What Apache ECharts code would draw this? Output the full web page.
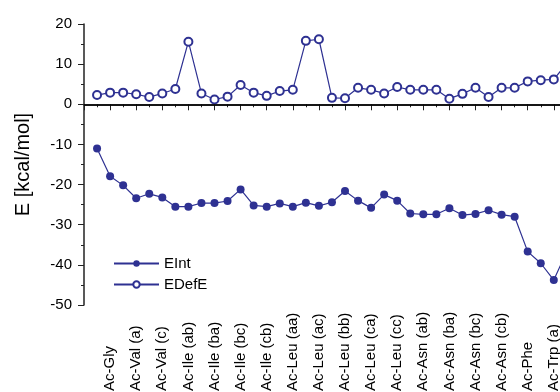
<!DOCTYPE html>
<html>
<head>
<meta charset="utf-8">
<script src="https://cdn.jsdelivr.net/npm/echarts@6/dist/echarts.min.js"></script>
<style>
  html, body { margin: 0; padding: 0; background: #fff; }
  #chart { width: 560px; height: 392px; }
</style>
</head>
<body>
<div id="chart"></div>
<script>
// labels sit on the even x positions (2, 4, ... 36)
const tickLabels = [
  'Ac-Gly', 'Ac-Val (a)', 'Ac-Val (c)', 'Ac-Ile (ab)', 'Ac-Ile (ba)', 'Ac-Ile (bc)',
  'Ac-Ile (cb)', 'Ac-Leu (aa)', 'Ac-Leu (ac)', 'Ac-Leu (bb)', 'Ac-Leu (ca)', 'Ac-Leu (cc)',
  'Ac-Asn (ab)', 'Ac-Asn (ba)', 'Ac-Asn (bc)', 'Ac-Asn (cb)', 'Ac-Phe', 'Ac-Trp (a)'
];

// values at x = 1, 2, 3, ...
const eInt = [
  -11.0, -17.9, -20.2, -23.4, -22.3, -23.2, -25.5, -25.5, -24.6, -24.6,
  -24.1, -21.2, -25.2, -25.5, -24.7, -25.5, -24.5, -25.3, -24.4, -21.6,
  -24.0, -25.8, -22.5, -24.0, -27.2, -27.4, -27.4, -25.9, -27.6, -27.3,
  -26.4, -27.5, -28.0, -36.7, -39.6, -43.8, -36.6
];
const eDefE = [
  2.3, 2.9, 2.9, 2.5, 1.8, 2.7, 3.8, 15.6, 2.7, 1.2,
  1.9, 4.8, 2.9, 2.1, 3.3, 3.6, 15.8, 16.2, 1.6, 1.5,
  4.1, 3.6, 2.7, 4.3, 3.6, 3.6, 3.6, 1.4, 2.6, 4.1,
  1.8, 4.1, 4.1, 5.7, 6.0, 6.2, 10.2
];

const blue = '#2e3192';
const font = 'Liberation Sans, Arial, sans-serif';

const chart = echarts.init(document.getElementById('chart'));

const toPoints = arr => arr.map((v, i) => [i + 1, v]);

chart.setOption({
  backgroundColor: '#fff',
  animation: false,
  grid: { left: 84, top: 24, width: 522, height: 281, outerBoundsMode: 'none', containLabel: false },
  legend: {
    orient: 'vertical',
    left: 108,
    top: 251,
    itemWidth: 45,
    itemHeight: 8,
    itemGap: 6,
    textStyle: { fontFamily: font, fontSize: 15, color: '#000' },
    data: ['EInt', 'EDefE']
  },
  xAxis: {
    type: 'value',
    min: 0,
    max: 40,
    interval: 2,
    axisLine: { lineStyle: { color: '#222', width: 1.5 } },
    axisTick: { length: 6, lineStyle: { color: '#222', width: 1 } },
    minorTick: { show: true, splitNumber: 2, length: 3, lineStyle: { color: '#222', width: 1 } },
    splitLine: { show: false },
    axisLabel: {
      rotate: 90,
      align: 'left',
      verticalAlign: 'middle',
      margin: 86,
      fontFamily: font,
      fontSize: 15,
      color: '#000',
      formatter: v => tickLabels[v / 2 - 1] || ''
    }
  },
  yAxis: {
    type: 'value',
    min: -50,
    max: 20,
    interval: 10,
    name: 'E [kcal/mol]',
    nameLocation: 'middle',
    nameGap: 51,
    nameTextStyle: { fontFamily: font, fontSize: 20, color: '#000' },
    axisLine: { show: true, lineStyle: { color: '#222', width: 1.5 } },
    axisTick: { show: true, length: 6, lineStyle: { color: '#222', width: 1 } },
    minorTick: { show: true, splitNumber: 2, length: 3, lineStyle: { color: '#222', width: 1 } },
    splitLine: { show: false },
    axisLabel: { fontFamily: font, fontSize: 15, color: '#000', margin: 12 }
  },
  series: [
    {
      name: 'EInt',
      type: 'line',
      data: toPoints(eInt),
      symbol: 'circle',
      symbolSize: 8,
      itemStyle: { color: blue },
      lineStyle: { color: blue, width: 1.2 }
    },
    {
      name: 'EDefE',
      type: 'line',
      data: toPoints(eDefE),
      symbol: 'emptyCircle',
      symbolSize: 8,
      itemStyle: { color: blue, borderColor: blue, borderWidth: 1.3 },
      lineStyle: { color: blue, width: 1.2 },
      markLine: {
        silent: true,
        symbol: 'none',
        label: { show: false },
        lineStyle: { color: '#000', width: 1.5, type: 'solid' },
        data: [{ yAxis: 0 }]
      }
    }
  ]
});
</script>
</body>
</html>
